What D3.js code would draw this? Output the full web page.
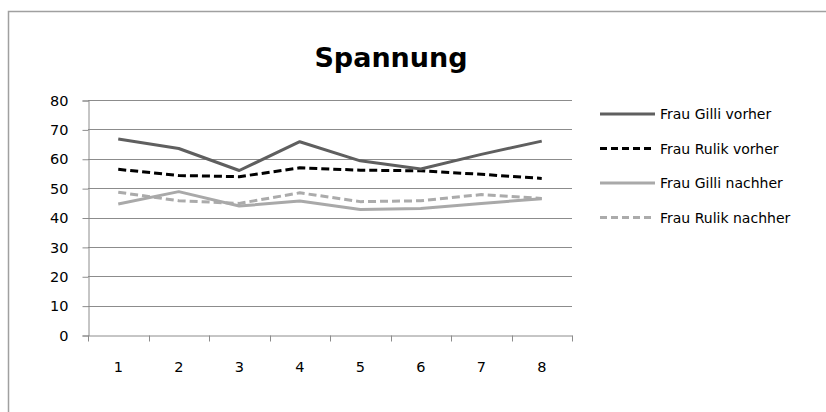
<!DOCTYPE html>
<html>
<head>
<meta charset="utf-8">
<script src="https://cdn.jsdelivr.net/npm/d3@7"></script>
<style>
  body { margin: 0; background: #fff; }
  svg text { font-family: "DejaVu Sans", "Open Sans", sans-serif; fill: #000; }
</style>
</head>
<body>
<svg id="svg" width="826" height="412"></svg>
<script>
const $svg = d3.select('#svg')

// data
const categories = [1, 2, 3, 4, 5, 6, 7, 8]
const yTicks = [0, 10, 20, 30, 40, 50, 60, 70, 80]
const gilliVorher = [66.7, 63.5, 56.0, 65.8, 59.3, 56.5, 61.5, 66.0]
const rulikVorher = [56.4, 54.3, 53.9, 56.9, 56.1, 55.9, 54.7, 53.3]
const gilliNachher = [44.6, 48.8, 43.9, 45.6, 42.7, 43.1, 44.8, 46.4]
const rulikNachher = [48.6, 45.7, 44.8, 48.4, 45.4, 45.7, 47.8, 46.5]

const series = [
	{ name: 'Frau Gilli vorher', values: gilliVorher, color: '#5f5f5f', dash: null },
	{ name: 'Frau Rulik vorher', values: rulikVorher, color: '#000000', dash: '8,4' },
	{ name: 'Frau Gilli nachher', values: gilliNachher, color: '#a9a9a9', dash: null },
	{ name: 'Frau Rulik nachher', values: rulikNachher, color: '#ababab', dash: '8,4' },
]

const plot = { left: 88, right: 572, top: 100, bottom: 335 }
const font = '"DejaVu Sans", sans-serif'

// chart frame (only top and left edges visible)
$svg.append('path')
	.attr('d', `M8.5,412 V11.5 H826`)
	.attr('fill', 'none')
	.attr('stroke', '#a0a0a0')
	.attr('stroke-width', 1.5)

$svg.append('text')
	.attr('x', 391)
	.attr('y', 67)
	.attr('text-anchor', 'middle')
	.attr('font-size', 27)
	.attr('font-weight', 'bold')
	.text('Spannung')

const scaleX = d3.scaleBand()
	.domain(categories)
	.range([plot.left, plot.right])

const scaleY = d3.scaleLinear()
	.domain([0, 80])
	.range([plot.bottom, plot.top])

// gridlines
$svg.append('g')
	.selectAll('line')
	.data(yTicks.filter(d => d > 0))
	.join('line')
	.attr('x1', plot.left)
	.attr('x2', plot.right)
	.attr('y1', d => Math.round(scaleY(d)) + 0.5)
	.attr('y2', d => Math.round(scaleY(d)) + 0.5)
	.attr('stroke', '#8c8c8c')

// y axis
const yAxis = $svg.append('g')
	.attr('transform', `translate(${plot.left + 0.5},0.5)`)
	.call(d3.axisLeft(scaleY).tickValues(yTicks).tickSize(6).tickPadding(14))
yAxis.select('.domain').attr('stroke', '#8c8c8c')
yAxis.selectAll('.tick line').attr('stroke', '#8c8c8c')
yAxis.selectAll('.tick text')
	.attr('font-size', 14.5)
	.attr('font-family', font)
	.attr('fill', '#000')

// x axis, ticks between categories
const xAxis = $svg.append('g')
	.attr('transform', `translate(0,${plot.bottom + 0.5})`)
	.call(d3.axisBottom(scaleX).tickSize(0).tickPadding(26))
xAxis.select('.domain').attr('stroke', '#8c8c8c')
xAxis.selectAll('.tick text')
	.attr('font-size', 14.5)
	.attr('font-family', font)
	.attr('fill', '#000')
xAxis.append('g')
	.selectAll('line')
	.data(d3.range(categories.length + 1))
	.join('line')
	.attr('x1', i => Math.round(plot.left + i * scaleX.step()) + 0.5)
	.attr('x2', i => Math.round(plot.left + i * scaleX.step()) + 0.5)
	.attr('y1', 0)
	.attr('y2', 6)
	.attr('stroke', '#8c8c8c')

// lines
const line = d3.line()
	.x((d, i) => scaleX(categories[i]) + scaleX.bandwidth() / 2)
	.y(d => scaleY(d))

series.slice().reverse().forEach(s => {
	$svg.append('path')
		.attr('d', line(s.values))
		.attr('fill', 'none')
		.attr('stroke', s.color)
		.attr('stroke-width', 3)
		.attr('stroke-dasharray', s.dash)
		.attr('stroke-linejoin', 'round')
})

// legend
const legend = $svg.append('g')
	.selectAll('g')
	.data(series)
	.join('g')
	.attr('transform', (d, i) => `translate(600,${114 + i * 34.5})`)

legend.append('line')
	.attr('x1', 0)
	.attr('x2', 55)
	.attr('stroke', d => d.color)
	.attr('stroke-width', 3)
	.attr('stroke-dasharray', d => d.dash ? '7,4' : null)

legend.append('text')
	.attr('x', 60)
	.attr('y', 5)
	.attr('font-size', 14)
	.text(d => d.name)
</script>
</body>
</html>
